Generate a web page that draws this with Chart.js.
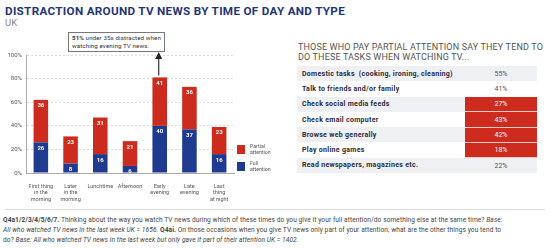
<!DOCTYPE html>
<html>
<head>
<meta charset="utf-8">
<script src="https://cdn.jsdelivr.net/npm/chart.js@4"></script>
<style>
  body { margin: 0; width: 550px; height: 248px; background: #fff; position: relative; overflow: hidden; font-family: Roboto, sans-serif; }
  .abs { position: absolute; }
  #title { left: 5px; top: 4px; font: bold 11.7px Roboto; letter-spacing: 0.3px; color: #1f3675; white-space: nowrap; }
  #sub { left: 5px; top: 17px; font: 9.5px Roboto; color: #888; }
  #chartBox { left: 0; top: 0; width: 240px; height: 205px; }
  #note { left: 68px; top: 32px; width: 97px; height: 20px; border: 1px solid #777; background: #fff;
          font: 6.2px Roboto; letter-spacing: 0.1px; color: #333; padding: 1px 3px; box-sizing: border-box; line-height: 8.3px; white-space: nowrap; }
  .leg { font: 5.2px Roboto; color: #555; line-height: 5.6px; }
  .sw { width: 8px; height: 9px; }
  #head { left: 298px; top: 42px; font: 9px Roboto; letter-spacing: 0.15px; color: #555; line-height: 10px; white-space: nowrap; }
  #tbl { left: 297px; top: 66px; width: 240px; border-collapse: collapse; }
  #tbl td { height: 15.3px; padding: 0 0 0 5px; font: bold 7px Roboto; letter-spacing: 0.3px; color: #2b2b3a; box-sizing: border-box; white-space: nowrap; }
  #tbl td.v { width: 72px; padding: 0; text-align: center; font-weight: normal; letter-spacing: 0; color: #555; }
  #tbl td.hi { background: #cc2b1d; color: #fff; border-bottom: 1px solid #f3c9c3; }
  #rule { left: 5px; top: 209px; width: 540px; height: 1px; background: #ddd; }
  #foot { left: 3px; top: 215px; font: 6.6px Roboto; letter-spacing: 0.08px; color: #444; line-height: 10px; white-space: nowrap; }
</style>
</head>
<body>
<div id="title" class="abs">DISTRACTION AROUND TV NEWS BY TIME OF DAY AND TYPE</div>
<div id="sub" class="abs">UK</div>
<div id="chartBox" class="abs"><canvas id="bars"></canvas></div>
<div id="note" class="abs"><b>51%</b> under 35s distracted when<br>watching evening TV news.</div>
<div class="abs sw" style="left:237px;top:145px;background:#cc2b1d"></div>
<div class="abs leg" style="left:250px;top:144px">Partial<br>attention</div>
<div class="abs sw" style="left:237px;top:162px;background:#1f3b8f"></div>
<div class="abs leg" style="left:250px;top:161px">Full<br>attention</div>
<div id="head" class="abs">THOSE WHO PAY PARTIAL ATTENTION SAY THEY TEND TO<br>DO THESE TASKS WHEN WATCHING TV...</div>
<table id="tbl" class="abs"></table>
<div id="rule" class="abs"></div>
<div id="foot" class="abs"><b>Q4a1/2/3/4/5/6/7.</b> Thinking about the way you watch TV news during which of these times do you give it your full attention/do something else at the same time? <i>Base:</i><br><i>All who watched TV news in the last week UK = 1656.</i> <b>Q4ai.</b> On those occasions when you give TV news only part of your attention, what are the other things you tend to<br>do? <i>Base: All who watched TV news in the last week but only gave it part of their attention UK = 1402.</i></div>
<script>
const times = [
  ["First thing", "in the", "morning"],
  ["Later", "in the", "morning"],
  "Lunchtime",
  "Afternoon",
  ["Early", "evening"],
  ["Late", "evening"],
  ["Last", "thing", "at night"]
];
const fullAttention    = [26, 8, 16, 6, 40, 37, 16];
const partialAttention = [36, 23, 31, 21, 41, 36, 23];

const tasks = [
  "Domestic tasks  (cooking, ironing, cleaning)",
  "Talk to friends and/or family",
  "Check social media feeds",
  "Check email computer",
  "Browse web generally",
  "Play online games",
  "Read newspapers, magazines etc."
];
const taskShare = [55, 41, 27, 43, 42, 18, 22];
const highlighted = [false, false, true, true, true, true, false];

// table on the right
const tbl = document.getElementById("tbl");
tasks.forEach((t, i) => {
  const tr = document.createElement("tr");
  tr.style.background = i % 2 === 0 ? "#eef0f4" : "#fff";
  tr.innerHTML = `<td>${t.replace(/  /g, " &nbsp;")}</td><td class="v${highlighted[i] ? " hi" : ""}">${taskShare[i]}%</td>`;
  tbl.appendChild(tr);
});

// white numbers in the segments + arrow to the note
const segLabels = {
  id: "segLabels",
  afterDatasetsDraw(chart) {
    const ctx = chart.ctx;
    ctx.save();
    ctx.font = "bold 6px Roboto";
    ctx.fillStyle = "#fff";
    ctx.textAlign = "center";
    ctx.textBaseline = "middle";
    chart.data.datasets.forEach((ds, i) => {
      chart.getDatasetMeta(i).data.forEach((bar, j) => {
        ctx.fillText(ds.data[j], bar.x, bar.y + 6);
      });
    });
    const top = chart.getDatasetMeta(1).data[4];
    ctx.strokeStyle = "#333";
    ctx.fillStyle = "#222";
    ctx.lineWidth = 1.2;
    ctx.beginPath();
    ctx.moveTo(top.x - 1, top.y - 2);
    ctx.lineTo(top.x - 1, 57);
    ctx.stroke();
    ctx.beginPath();
    ctx.moveTo(top.x - 1, 52);
    ctx.lineTo(top.x - 4.5, 59);
    ctx.lineTo(top.x + 2.5, 59);
    ctx.closePath();
    ctx.fill();
    ctx.restore();
  }
};

new Chart(document.getElementById("bars"), {
  type: "bar",
  data: {
    labels: times,
    datasets: [
      { label: "Full attention", data: fullAttention, backgroundColor: "#1f3b8f" },
      { label: "Partial attention", data: partialAttention, backgroundColor: "#cc2b1d" }
    ]
  },
  plugins: [segLabels],
  options: {
    responsive: true,
    maintainAspectRatio: false,
    animation: false,
    categoryPercentage: 1,
    barPercentage: 0.49,
    layout: { padding: { top: 55, right: 6, left: 0, bottom: 0 } },
    plugins: { legend: { display: false }, tooltip: { enabled: false } },
    scales: {
      x: {
        stacked: true,
        grid: { display: false },
        border: { color: "#aaa" },
        ticks: { color: "#555", font: { size: 5.5, family: "Roboto", lineHeight: 1.1 }, maxRotation: 0, autoSkip: false, padding: 3 },
        afterFit: s => { s.height = 32; }
      },
      y: {
        stacked: true,
        min: 0,
        max: 100,
        ticks: { stepSize: 20, callback: v => v + "%", color: "#555", font: { size: 6, family: "Roboto" }, padding: 4 },
        grid: { color: "#dcdcdc", drawTicks: false },
        border: { color: "#aaa", dash: [2, 2] },
        afterFit: s => { s.width = 26; }
      }
    }
  }
});
</script>
</body>
</html>
